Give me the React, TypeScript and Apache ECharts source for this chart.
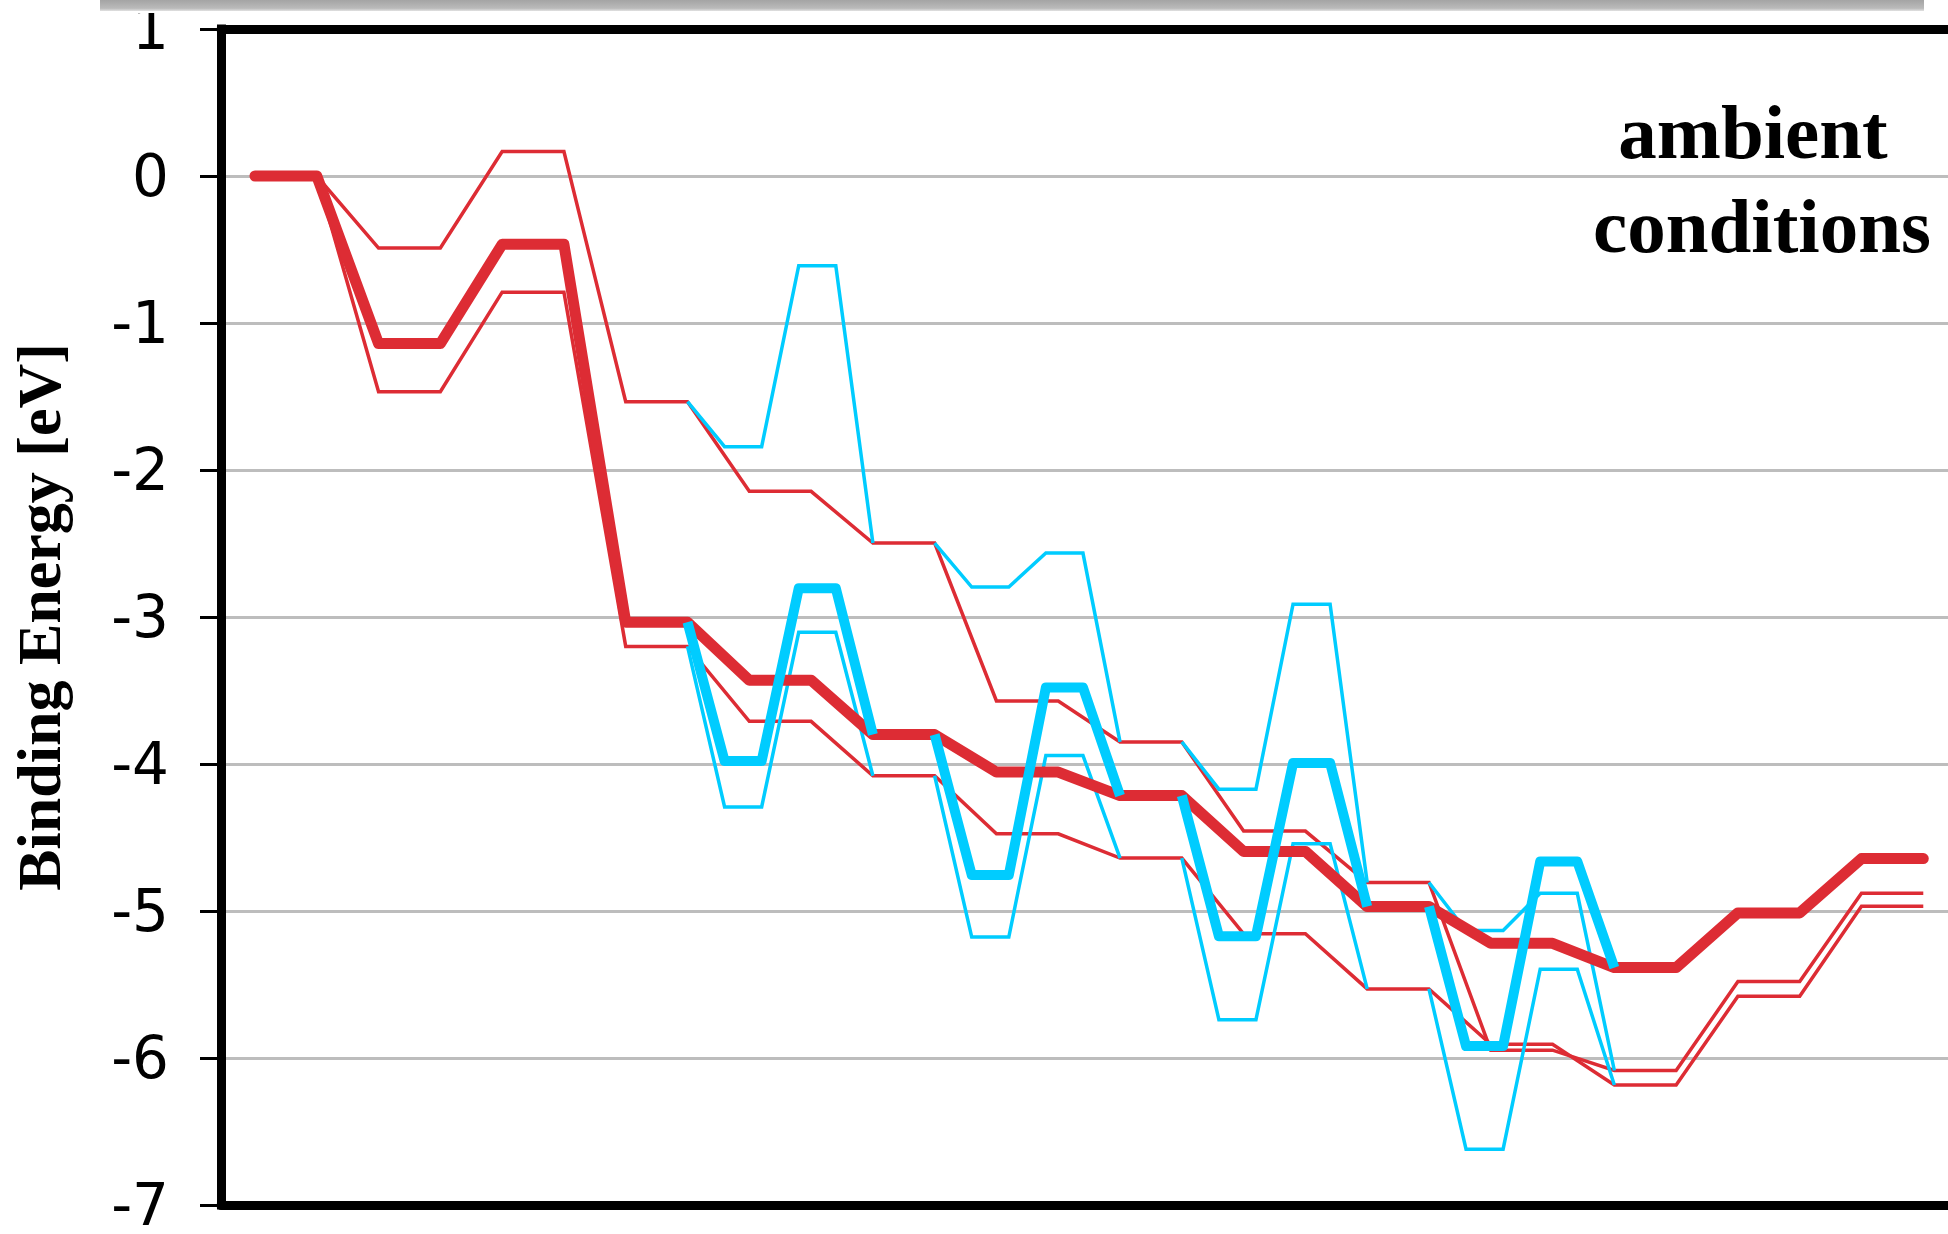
import React, { useEffect, useRef } from "react";
import * as echarts from "echarts";

// Binding energy (eV) of each intermediate state along the reaction path.
// Every state is drawn as a short plateau (two x positions).
const mainPath = [0, -1.14, -0.465, -3.035, -3.43, -3.8, -4.055, -4.215, -4.595, -4.97, -5.22, -5.385, -5.013, -4.643];
const upperBound = [0, -0.49, 0.166, -1.535, -2.145, -2.497, -3.571, -3.85, -4.456, -4.806, -5.947, -6.085, -5.48, -4.879];
const lowerBound = [0, -1.468, -0.79, -3.2, -3.71, -4.08, -4.475, -4.64, -5.155, -5.53, -5.907, -6.184, -5.58, -4.968];

// Alternative path: these states are replaced by a two-step detour
const detourStates = [4, 6, 8, 10];
const detourMain = [[-3.98, -2.805], [-4.755, -3.479], [-5.171, -3.994], [-5.919, -4.663]];
const detourUpper = [[-1.841, -0.61], [-2.796, -2.565], [-4.171, -2.913], [-5.133, -4.879]];
const detourLower = [[-4.292, -3.104], [-5.177, -3.942], [-5.739, -4.542], [-6.62, -5.396]];

// Energy axis
const yMin = -7;
const yMax = 1;
const yStep = 1;

// Reaction-coordinate axis (state index, two positions per state)
const xMin = -0.55;
const xMax = 27.4;

const axisTitle = "Binding Energy [eV]";
const panelLabel = ["ambient", "conditions"];

const RED = "#dd2c34";
const CYAN = "#00ccff";

type Pt = [number, number];

// two points per state: plateau from 2i to 2i+1
const plateau = (vals: number[]): Pt[] =>
  vals.flatMap((v, i) => [[2 * i, v], [2 * i + 1, v]] as Pt[]);

// detour around state k: leaves at the end of state k-1, rejoins at start of state k+1
const detour = (base: number[], sub: number[], k: number): Pt[] => {
  const s = 2 * k - 1;
  const [a, b] = sub;
  return [
    [s, base[k - 1]],
    [s + 0.6, a],
    [s + 1.2, a],
    [s + 1.8, b],
    [s + 2.4, b],
    [s + 3, base[k + 1]],
  ];
};

const lineSeries = (data: Pt[], color: string, width: number, cap: string, join: string) => ({
  type: "line",
  xAxisIndex: 0,
  data,
  symbol: "none",
  silent: true,
  lineStyle: { color, width, cap, join },
});

const frameLine = { show: true, onZero: false, lineStyle: { color: "#000000", width: 9 } };

const hiddenX = (position: "top" | "bottom") => ({
  type: "value",
  position,
  min: xMin,
  max: xMax,
  axisLine: frameLine,
  axisTick: { show: false },
  axisLabel: { show: false },
  splitLine: { show: false },
});

export default function App() {
  const ref = useRef<HTMLDivElement>(null);

  useEffect(() => {
    if (!ref.current) return;
    const chart = echarts.init(ref.current, undefined, { renderer: "svg" });

    const series: any[] = [];
    series.push(lineSeries(plateau(upperBound), RED, 3.5, "butt", "miter"));
    series.push(lineSeries(plateau(lowerBound), RED, 3.5, "butt", "miter"));
    detourStates.forEach((k, d) => {
      series.push(lineSeries(detour(upperBound, detourUpper[d], k), CYAN, 3.5, "butt", "miter"));
      series.push(lineSeries(detour(lowerBound, detourLower[d], k), CYAN, 3.5, "butt", "miter"));
    });
    series.push(lineSeries(plateau(mainPath), RED, 11, "round", "round"));
    detourStates.forEach((k, d) => {
      series.push(lineSeries(detour(mainPath, detourMain[d], k), CYAN, 10, "butt", "round"));
    });

    chart.setOption({
      animation: false,
      backgroundColor: "#ffffff",
      grid: {
        left: 218.5,
        top: 22.8,
        right: 0,
        bottom: 24.3,
        show: false,
      },
      xAxis: [hiddenX("bottom"), hiddenX("top")],
      yAxis: {
        type: "value",
        min: yMin,
        max: yMax,
        interval: yStep,
        axisLine: {
          show: true,
          onZero: false,
          lineStyle: { color: "#000000", width: 9, cap: "square" },
        },
        axisTick: { show: true, length: 21, lineStyle: { color: "#000000", width: 3 } },
        axisLabel: {
          fontFamily: "DejaVu Sans",
          fontSize: 58,
          color: "#000000",
          margin: 52,
        },
        splitLine: { show: true, lineStyle: { color: "#bdbdbd", width: 3 } },
        name: axisTitle,
        nameLocation: "middle",
        nameGap: 151,
        nameTextStyle: {
          fontFamily: "Liberation Serif",
          fontWeight: "bold",
          fontSize: 62,
          color: "#000000",
        },
      },
      graphic: [
        {
          type: "rect",
          z: 100,
          shape: { x: 0, y: 0, width: 212, height: 13 },
          style: { fill: "#ffffff" },
        },
        {
          type: "rect",
          z: 101,
          shape: { x: 100, y: 0, width: 1824, height: 11 },
          style: {
            fill: new echarts.graphic.LinearGradient(0, 0, 0, 1, [
              { offset: 0, color: "#a4a4a4" },
              { offset: 0.75, color: "#bababa" },
              { offset: 1, color: "#e2e2e2" },
            ]),
          },
        },
        {
          type: "text",
          z: 100,
          x: 1753,
          y: 132,
          style: {
            text: panelLabel[0],
            fontFamily: "Liberation Serif",
            fontWeight: "bold",
            fontSize: 77,
            fill: "#000000",
            align: "center",
            verticalAlign: "middle",
          },
        },
        {
          type: "text",
          z: 100,
          x: 1762,
          y: 225.7,
          style: {
            text: panelLabel[1],
            fontFamily: "Liberation Serif",
            fontWeight: "bold",
            fontSize: 77,
            fill: "#000000",
            align: "center",
            verticalAlign: "middle",
          },
        },
      ],
      series,
    });

    return () => chart.dispose();
  }, []);

  return (
    <div
      ref={ref}
      style={{ position: "absolute", left: 0, top: 0, width: 1948, height: 1234, background: "#fff" }}
    />
  );
}
